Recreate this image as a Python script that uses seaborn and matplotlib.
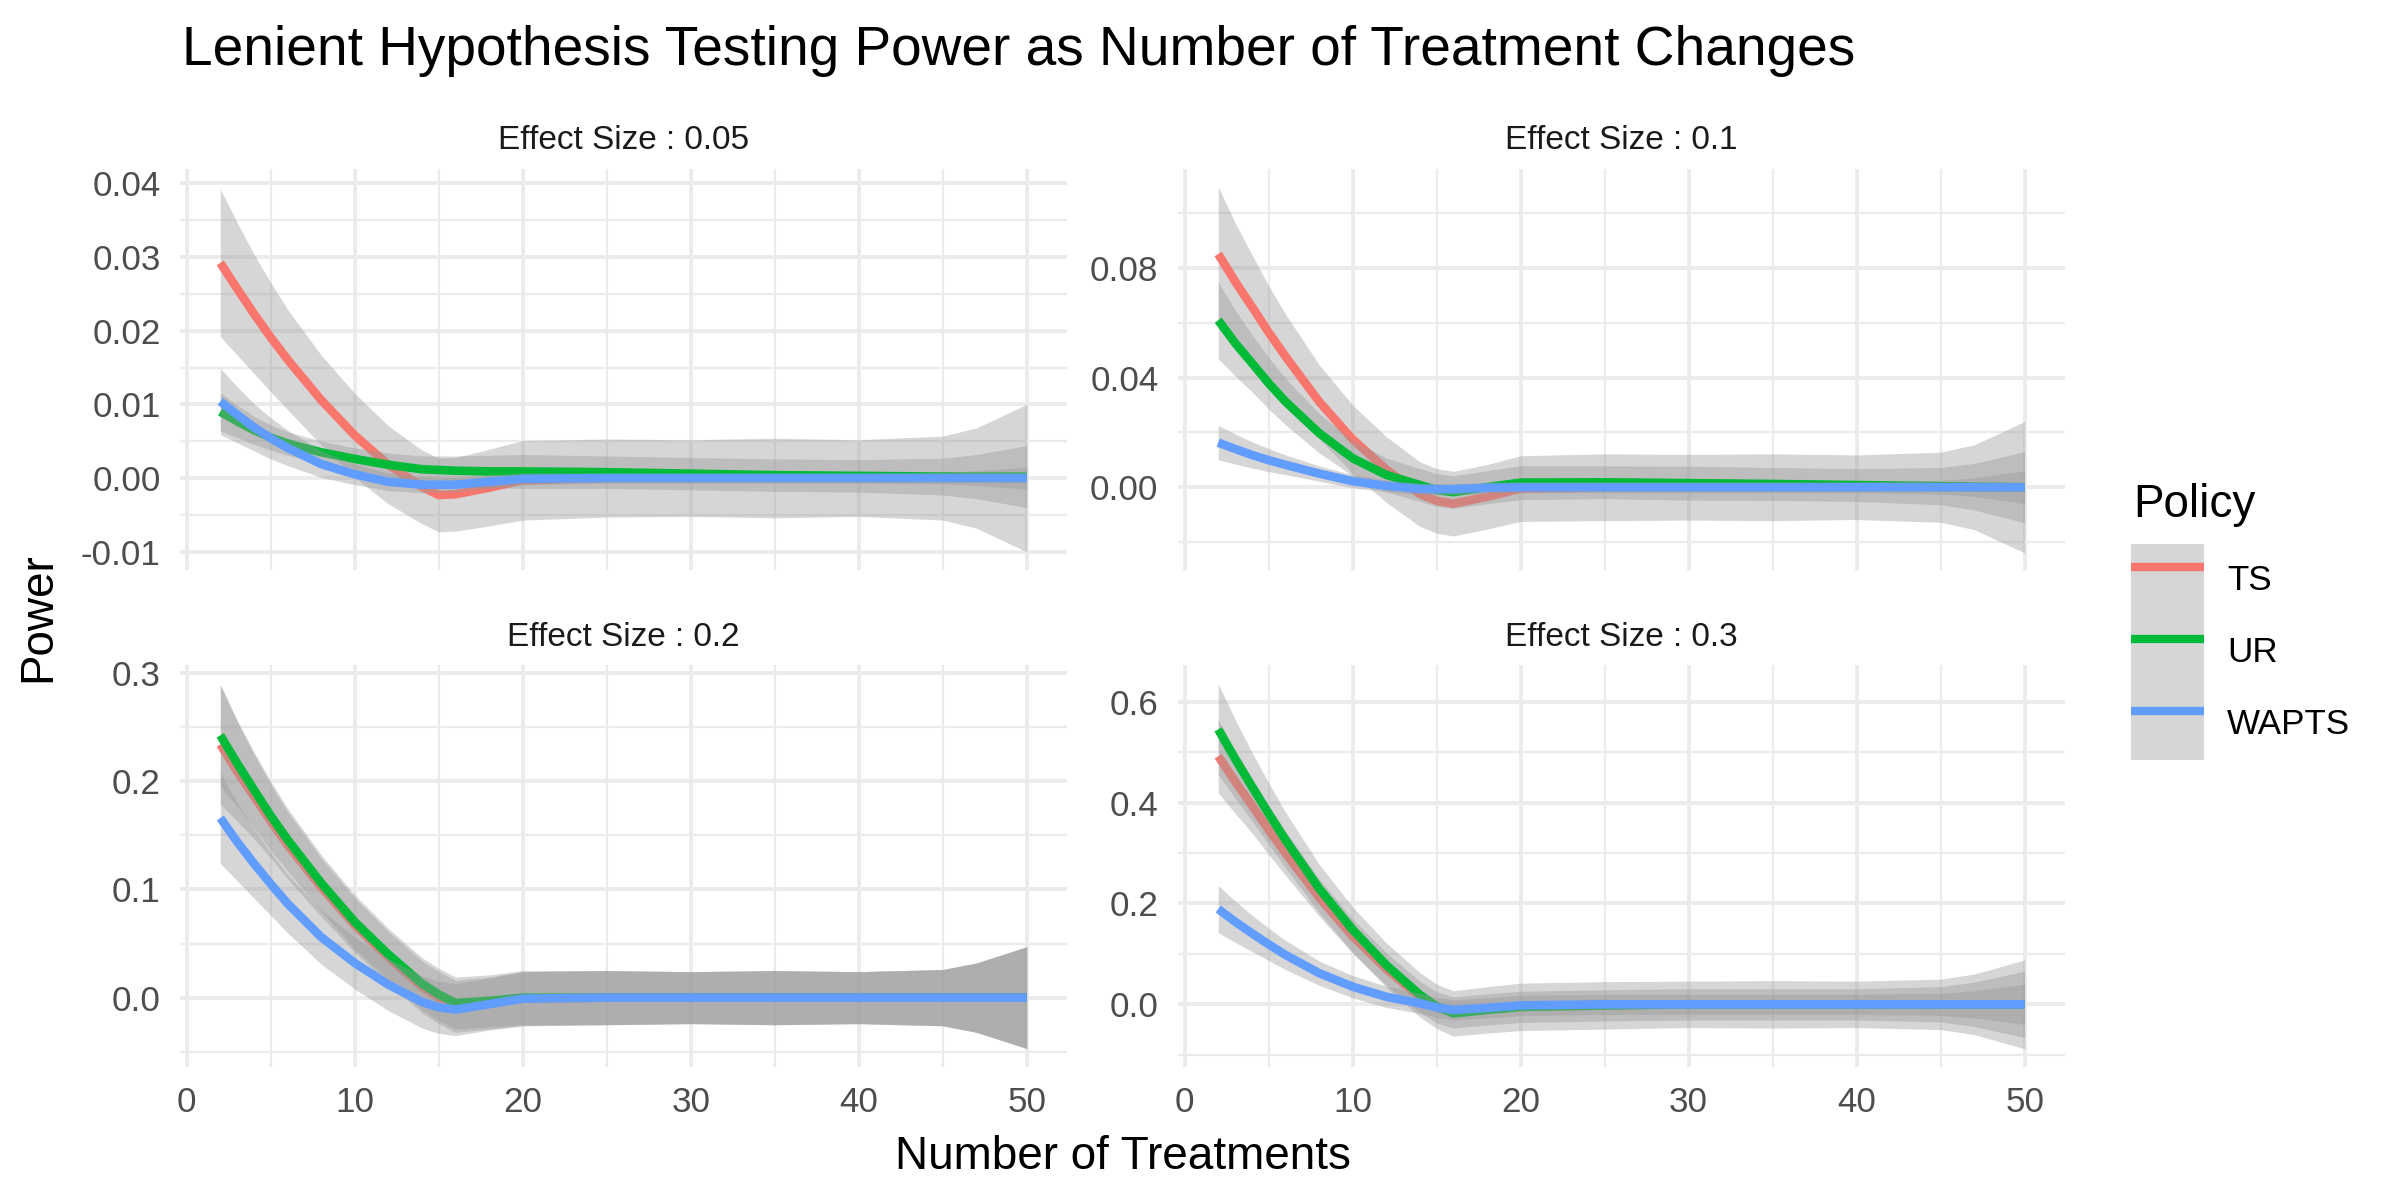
import matplotlib
matplotlib.use("Agg")
import matplotlib.pyplot as plt
from matplotlib.lines import Line2D
from matplotlib.patches import Patch
from matplotlib.legend_handler import HandlerTuple
import pandas as pd
import seaborn as sns

# Number of treatments where the smoothed curves were read
n_treat = [2, 3, 4, 5, 6, 8, 10, 12, 14, 15, 16, 18, 20, 25, 30, 35, 40, 45, 47, 50]
policies = ["TS", "UR", "WAPTS"]
effect_sizes = ["0.05", "0.1", "0.2", "0.3"]

# Effect size 0.05: smoothed power and CI half-width
ts_005 = [0.0292, 0.0257, 0.0223, 0.0191, 0.0161, 0.0106, 0.0058, 0.0018, -0.0012, -0.0023,
          -0.0022, -0.0013, -0.0003, 0.0, 0.0, 0.0, 0.0, 0.0, 0.0, 0.0]
ts_005_ci = [0.0100, 0.0090, 0.0081, 0.0074, 0.0068, 0.0061, 0.0057, 0.0053, 0.0050, 0.0050,
             0.0050, 0.0052, 0.0054, 0.0053, 0.0052, 0.0054, 0.0052, 0.0057, 0.0068, 0.0100]
ur_005 = [0.0090, 0.0077, 0.0065, 0.0055, 0.0047, 0.0035, 0.0026, 0.0018, 0.0012, 0.0011,
          0.0010, 0.0009, 0.0009, 0.0008, 0.0006, 0.0004, 0.0003, 0.0002, 0.0002, 0.0002]
ur_005_ci = [0.0026, 0.0022, 0.0019, 0.0017, 0.0016, 0.0015, 0.0015, 0.0016, 0.0018, 0.0019,
             0.0020, 0.0022, 0.0023, 0.0022, 0.0022, 0.0022, 0.0022, 0.0025, 0.0030, 0.0042]
wapts_005 = [0.0104, 0.0086, 0.0069, 0.0054, 0.0041, 0.0019, 0.0005, -0.0005, -0.0009, -0.0009,
             -0.0009, -0.0005, -0.0001, 0.0, 0.0, 0.0, 0.0, 0.0, 0.0, 0.0]
wapts_005_ci = [0.0045, 0.0038, 0.0032, 0.0028, 0.0024, 0.0018, 0.0014, 0.0012, 0.0011, 0.0010,
                0.0010, 0.0009, 0.0008, 0.0007, 0.0007, 0.0007, 0.0007, 0.0008, 0.0010, 0.0015]

# Effect size 0.1
ts_01 = [0.0852, 0.0752, 0.0660, 0.0566, 0.0478, 0.0313, 0.0175, 0.0065, -0.0025, -0.0050,
         -0.0060, -0.0035, -0.0005, 0.0, 0.0, 0.0, 0.0, 0.0, 0.0, 0.0]
ts_01_ci = [0.0245, 0.0215, 0.0190, 0.0170, 0.0155, 0.0135, 0.0125, 0.0120, 0.0118, 0.0118,
            0.0118, 0.0118, 0.0120, 0.0122, 0.0120, 0.0122, 0.0118, 0.0128, 0.0155, 0.0240]
ur_01 = [0.0610, 0.0527, 0.0454, 0.0380, 0.0313, 0.0198, 0.0106, 0.0045, 0.0008, -0.0010,
         -0.0018, 0.0000, 0.0017, 0.0018, 0.0015, 0.0012, 0.0008, 0.0004, 0.0002, 0.0]
ur_01_ci = [0.0140, 0.0120, 0.0105, 0.0094, 0.0085, 0.0072, 0.0065, 0.0062, 0.0060, 0.0060,
            0.0060, 0.0060, 0.0062, 0.0060, 0.0062, 0.0060, 0.0060, 0.0068, 0.0085, 0.0130]
wapts_01 = [0.0163, 0.0140, 0.0118, 0.0099, 0.0082, 0.0050, 0.0022, 0.0005, -0.0006, -0.0007,
            -0.0007, -0.0002, 0.0, 0.0, 0.0, 0.0, 0.0, 0.0, 0.0, 0.0]
wapts_01_ci = [0.0063, 0.0055, 0.0048, 0.0042, 0.0036, 0.0028, 0.0024, 0.0022, 0.0021, 0.0021,
               0.0021, 0.0020, 0.0020, 0.0020, 0.0020, 0.0020, 0.0020, 0.0025, 0.0034, 0.0060]

# Effect size 0.2
ts_02 = [0.234, 0.209, 0.186, 0.163, 0.141, 0.102, 0.067, 0.037, 0.010, 0.000,
         -0.008, -0.005, -0.001, 0.0, 0.0, 0.0, 0.0, 0.0, 0.0, 0.0]
ts_02_ci = [0.055, 0.046, 0.039, 0.034, 0.031, 0.027, 0.025, 0.024, 0.024, 0.024,
            0.024, 0.024, 0.025, 0.025, 0.024, 0.025, 0.024, 0.026, 0.032, 0.047]
ur_02 = [0.2423, 0.2165, 0.192, 0.168, 0.146, 0.106, 0.070, 0.040, 0.013, 0.003,
         -0.005, -0.003, 0.0, 0.0, 0.0, 0.0, 0.0, 0.0, 0.0, 0.0]
ur_02_ci = [0.047, 0.040, 0.035, 0.032, 0.029, 0.026, 0.025, 0.024, 0.024, 0.024,
            0.024, 0.024, 0.025, 0.025, 0.024, 0.025, 0.024, 0.026, 0.032, 0.047]
wapts_02 = [0.166, 0.144, 0.124, 0.105, 0.087, 0.056, 0.032, 0.012, -0.004, -0.009,
            -0.011, -0.006, -0.001, 0.0, 0.0, 0.0, 0.0, 0.0, 0.0, 0.0]
wapts_02_ci = [0.042, 0.036, 0.032, 0.029, 0.027, 0.025, 0.024, 0.024, 0.024, 0.024,
               0.024, 0.024, 0.025, 0.025, 0.024, 0.025, 0.024, 0.026, 0.032, 0.047]

# Effect size 0.3
ts_03 = [0.492, 0.442, 0.395, 0.346, 0.300, 0.212, 0.135, 0.070, 0.015, -0.006,
         -0.016, -0.010, -0.005, -0.002, 0.0, 0.0, 0.0, 0.0, 0.0, 0.0]
ts_03_ci = [0.073, 0.063, 0.055, 0.049, 0.044, 0.037, 0.034, 0.032, 0.031, 0.031,
            0.031, 0.031, 0.031, 0.031, 0.031, 0.031, 0.031, 0.035, 0.044, 0.066]
ur_03 = [0.545, 0.487, 0.432, 0.378, 0.326, 0.230, 0.148, 0.078, 0.019, -0.004,
         -0.018, -0.011, -0.005, -0.002, 0.0, 0.0, 0.0, 0.0, 0.0, 0.0]
ur_03_ci = [0.090, 0.078, 0.068, 0.061, 0.055, 0.048, 0.045, 0.044, 0.044, 0.044,
            0.045, 0.046, 0.047, 0.047, 0.046, 0.047, 0.046, 0.050, 0.060, 0.088]
wapts_03 = [0.189, 0.164, 0.141, 0.119, 0.098, 0.062, 0.035, 0.015, 0.002, -0.006,
            -0.011, -0.007, -0.002, 0.0, 0.0, 0.0, 0.0, 0.0, 0.0, 0.0]
wapts_03_ci = [0.047, 0.041, 0.036, 0.032, 0.029, 0.024, 0.022, 0.021, 0.020, 0.020,
               0.020, 0.020, 0.020, 0.020, 0.020, 0.020, 0.020, 0.022, 0.027, 0.040]

y_ticks = {
    "0.05": [-0.01, 0.0, 0.01, 0.02, 0.03, 0.04],
    "0.1": [0.0, 0.04, 0.08],
    "0.2": [0.0, 0.1, 0.2, 0.3],
    "0.3": [0.0, 0.2, 0.4, 0.6],
}
y_fmt = {"0.05": "{:.2f}", "0.1": "{:.2f}", "0.2": "{:.1f}", "0.3": "{:.1f}"}
y_lims = {"0.05": (-0.0125, 0.042), "0.1": (-0.0303, 0.1164),
          "0.2": (-0.064, 0.307), "0.3": (-0.124, 0.672)}

series = {
    "0.05": {"TS": (ts_005, ts_005_ci), "UR": (ur_005, ur_005_ci), "WAPTS": (wapts_005, wapts_005_ci)},
    "0.1": {"TS": (ts_01, ts_01_ci), "UR": (ur_01, ur_01_ci), "WAPTS": (wapts_01, wapts_01_ci)},
    "0.2": {"TS": (ts_02, ts_02_ci), "UR": (ur_02, ur_02_ci), "WAPTS": (wapts_02, wapts_02_ci)},
    "0.3": {"TS": (ts_03, ts_03_ci), "UR": (ur_03, ur_03_ci), "WAPTS": (wapts_03, wapts_03_ci)},
}

# long table for seaborn
rows = []
for es in effect_sizes:
    for pol in policies:
        vals, ci = series[es][pol]
        for x, v, c in zip(n_treat, vals, ci):
            rows.append({"effect": es, "policy": pol, "n": x, "power": v,
                         "lo": v - c, "hi": v + c})
df = pd.DataFrame(rows)

colors = {"TS": "#F8766D", "UR": "#00BA38", "WAPTS": "#619CFF"}

sns.set_theme(style="white")
plt.rcParams["font.family"] = ["Liberation Sans", "DejaVu Sans"]
plt.rcParams["text.color"] = "black"

fig, axes = plt.subplots(2, 2, figsize=(12, 6), dpi=200)
fig.subplots_adjust(left=0.075, right=0.8604, top=0.8595, bottom=0.1109,
                    wspace=0.125, hspace=0.237)

for ax, es in zip(axes.flat, effect_sizes):
    sub = df[df["effect"] == es]
    # ribbon then line per policy, like geom_smooth draws them
    for i, pol in enumerate(policies):
        d = sub[sub["policy"] == pol]
        ax.fill_between(d["n"], d["lo"], d["hi"], color="#999999", alpha=0.4,
                        linewidth=0, zorder=2 + 2 * i)
        sns.lineplot(data=d, x="n", y="power", color=colors[pol], linewidth=3.1,
                     ax=ax, zorder=3 + 2 * i, legend=False, solid_capstyle="butt")
    ax.set_xticks([0, 10, 20, 30, 40, 50])
    ax.set_xticks([5, 15, 25, 35, 45], minor=True)
    yt = y_ticks[es]
    lo, hi = y_lims[es]
    step = yt[1] - yt[0]
    minor = [t + step / 2 for t in [yt[0] - step] + yt]
    ax.set_yticks(yt)
    ax.set_yticks([m for m in minor if lo < m < hi], minor=True)
    ax.set_yticklabels([y_fmt[es].format(t) for t in yt])
    ax.set_xlim(-0.4, 52.4)
    ax.set_ylim(lo, hi)
    ax.grid(True, which="major", color="#EBEBEB", linewidth=1.4, zorder=0)
    ax.grid(True, which="minor", color="#EBEBEB", linewidth=0.8, zorder=0)
    ax.set_axisbelow(True)
    for s in ax.spines.values():
        s.set_visible(False)
    ax.tick_params(which="both", length=0, labelsize=12.6, labelcolor="#4D4D4D", pad=7)
    ax.set_xlabel("")
    ax.set_ylabel("")
    ax.set_title(f"Effect Size : {es}", fontsize=12, color="#1A1A1A", pad=7)

for ax in axes[0]:
    ax.tick_params(axis="x", labelbottom=False)

fig.text(0.076, 0.9458, "Lenient Hypothesis Testing Power as Number of Treatment Changes",
         fontsize=19.8, ha="left", va="baseline")
fig.text(0.4677, 0.036, "Number of Treatments", fontsize=16.5, ha="center", va="center")
fig.text(0.016, 0.486, "Power", fontsize=16.5, ha="center", va="center", rotation=90)

# legend: title as separate text, keys on one grey strip
fig.text(0.8888, 0.5692, "Policy", fontsize=16.5, ha="left", va="baseline")
handles = [(Patch(facecolor="#999999", alpha=0.4, linewidth=0),
            Line2D([], [], color=colors[p], linewidth=3.0, solid_capstyle="butt"))
           for p in policies]
leg = fig.legend(handles, policies, loc="upper left", bbox_to_anchor=(0.8879, 0.5467),
                 frameon=False, fontsize=12.6,
                 handler_map={tuple: HandlerTuple(ndivide=1, pad=0)},
                 handlelength=2.1, handleheight=2.79, labelspacing=0,
                 handletextpad=0.65, borderpad=0, borderaxespad=0)
for t in leg.get_texts():
    t.set_color("black")

fig.savefig("out.png", dpi=200, facecolor="white")
